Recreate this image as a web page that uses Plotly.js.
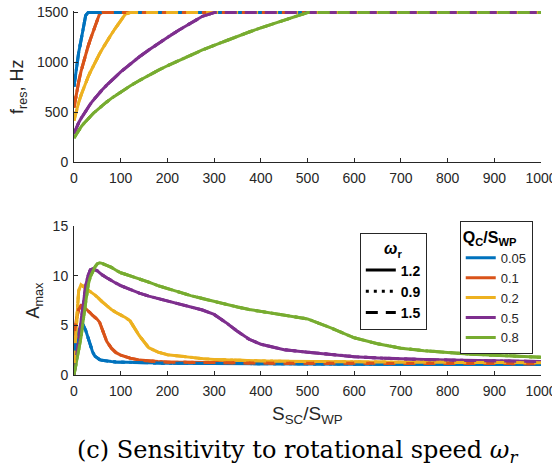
<!DOCTYPE html>
<html>
<head>
<meta charset="utf-8">
<script src="https://cdn.plot.ly/plotly-3.0.1.min.js"></script>
<style>html,body{margin:0;padding:0;background:#fff;}#chart{width:552px;height:469px;}</style>
</head>
<body>
<div id="chart"></div>
<script>
// Shared x values: S_SC/S_WP
const ratio = [0,5,10,15,20,25,30,35,40,45,50,55,60,70,80,90,100,110,120,140,160,180,200,225,250,275,300,325,350,375,400,450,500,550,600,650,700,750,800,850,900,950,1000];

// Q_C/S_WP categories and colours
const qLabels = ['0.05','0.1','0.2','0.5','0.8'];
const qColors = ['#0072BD','#D95319','#EDB120','#7E2F8E','#77AC30'];

// Rotational speed legend
const wLabels = ['1.2','0.9','1.5'];

// f_res, Hz
const fBlue   = [760,946,1100,1220,1340,1470,1500,1500,1500,1500,1500,1500,1500,1500,1500,1500,1500,1500,1500,1500,1500,1500,1500,1500,1500,1500,1500,1500,1500,1500,1500,1500,1500,1500,1500,1500,1500,1500,1500,1500,1500,1500,1500];
const fRed    = [550,690,806,910,1000,1085,1160,1230,1300,1365,1430,1490,1500,1500,1500,1500,1500,1500,1500,1500,1500,1500,1500,1500,1500,1500,1500,1500,1500,1500,1500,1500,1500,1500,1500,1500,1500,1500,1500,1500,1500,1500,1500];
const fYellow = [420,518,600,672,737,797,853,905,954,1001,1040,1089,1130,1209,1282,1352,1420,1484,1500,1500,1500,1500,1500,1500,1500,1500,1500,1500,1500,1500,1500,1500,1500,1500,1500,1500,1500,1500,1500,1500,1500,1500,1500];
const fPurple = [290,347,397,440,479,516,551,584,615,644,672,698,724,773,819,862,905,944,983,1057,1125,1190,1251,1325,1395,1462,1500,1500,1500,1500,1500,1500,1500,1500,1500,1500,1500,1500,1500,1500,1500,1500,1500];
const fGreen  = [245,286,322,355,384,412,437,462,485,507,528,548,568,605,641,674,706,736,765,820,872,921,967,1022,1075,1125,1172,1218,1262,1305,1346,1425,1500,1500,1500,1500,1500,1500,1500,1500,1500,1500,1500];

// A_max
const aBlue   = [2.5,3.6,4.4,4.9,5.0,4.5,3.7,2.9,2.3,1.9,1.7,1.55,1.48,1.4,1.35,1.32,1.3,1.28,1.26,1.24,1.22,1.2,1.19,1.18,1.17,1.16,1.15,1.14,1.13,1.12,1.12,1.11,1.1,1.09,1.08,1.08,1.07,1.07,1.06,1.06,1.05,1.05,1.05];
const aRed    = [4.0,5.6,6.6,7.0,6.9,6.7,6.5,6.25,6.0,5.8,5.6,5.3,4.6,3.4,2.7,2.25,2.0,1.82,1.7,1.5,1.4,1.35,1.3,1.28,1.26,1.24,1.23,1.22,1.21,1.2,1.2,1.19,1.18,1.18,1.17,1.17,1.16,1.16,1.15,1.15,1.15,1.14,1.14];
const aYellow = [1.2,5.5,8.5,9.1,8.9,8.7,8.55,8.4,8.25,8.05,7.85,7.6,7.4,7.0,6.6,6.3,6.05,5.8,5.45,3.95,2.75,2.3,2.05,1.9,1.75,1.65,1.57,1.52,1.48,1.45,1.42,1.38,1.35,1.33,1.31,1.3,1.29,1.28,1.27,1.26,1.25,1.25,1.24];
const aPurple = [0,1.7,3.5,5.3,7.2,9.0,10.0,10.6,10.7,10.6,10.5,10.3,10.1,9.8,9.5,9.25,9.0,8.8,8.6,8.25,7.95,7.7,7.45,7.15,6.85,6.55,6.1,5.3,4.4,3.6,3.1,2.55,2.3,2.05,1.85,1.72,1.6,1.55,1.5,1.46,1.42,1.38,1.35];
const aGreen  = [0,1.2,2.5,3.8,5.6,7.5,9.0,9.9,10.5,10.9,11.2,11.3,11.25,11.05,10.85,10.55,10.3,10.15,10.0,9.7,9.35,9.0,8.7,8.35,8.0,7.7,7.4,7.1,6.85,6.6,6.4,6.05,5.65,4.75,3.75,3.15,2.7,2.45,2.25,2.1,2.0,1.88,1.78];

const fSeries = [fBlue,fRed,fYellow,fPurple,fGreen];
const aSeries = [aBlue,aRed,aYellow,aPurple,aGreen];

const dashes = ['solid','3px,5px','12px,8px'];
const LW = 3;
const traces = [];

dashes.forEach((d, di) => {
  fSeries.forEach((ys, i) => {
    traces.push({x: ratio, y: ys, xaxis:'x', yaxis:'y', mode:'lines', type:'scatter',
      line:{color:qColors[i], width:LW, dash:d}, showlegend:false, hoverinfo:'skip'});
  });
});
dashes.forEach((d, di) => {
  aSeries.forEach((ys, i) => {
    traces.push({x: ratio, y: ys, xaxis:'x2', yaxis:'y2', mode:'lines', type:'scatter',
      line:{color:qColors[i], width:LW, dash:d}, name:qLabels[i],
      showlegend: di === 0, legend:'legend2', hoverinfo:'skip'});
  });
});
// line-style legend entries (style samples only)
wLabels.forEach((lab, k) => {
  traces.push({x:[null], y:[null], xaxis:'x2', yaxis:'y2', mode:'lines', type:'scatter',
    line:{color:'#000', width:LW, dash:dashes[k]}, name:lab, showlegend:true, legend:'legend'});
});

const tickFont = {family:'Liberation Sans, Arial, sans-serif', size:14, color:'#262626'};
const titleFont = {family:'Liberation Sans, Arial, sans-serif', size:18, color:'#262626'};
const axBase = {showline:true, linecolor:'#262626', linewidth:1, ticks:'inside', ticklen:4,
  tickcolor:'#262626', tickfont:tickFont, showgrid:false, zeroline:false, mirror:false, fixedrange:true,
  ticklabeloverflow:'allow'};

const layout = {
  width:552, height:469,
  margin:{l:74, r:11, t:11, b:94},
  paper_bgcolor:'#fff', plot_bgcolor:'#fff',
  font:{family:'Liberation Sans, Arial, sans-serif', color:'#262626'},
  xaxis: Object.assign({}, axBase, {domain:[0,1], anchor:'y', range:[0,1000], tick0:0, dtick:100, ticklabelstandoff:3}),
  yaxis: Object.assign({}, axBase, {domain:[0.584,1], anchor:'x', range:[0,1515], tickvals:[0,500,1000,1500],
    ticklabelstandoff:2, title:{text:'f<sub>res</sub>, Hz', font:titleFont, standoff:8}}),
  xaxis2: Object.assign({}, axBase, {domain:[0,1], anchor:'y2', range:[0,1000], tick0:0, dtick:100, ticklabelstandoff:3}),
  yaxis2: Object.assign({}, axBase, {domain:[0,0.409], anchor:'x2', range:[0,15], tickvals:[0,5,10,15],
    ticklabelstandoff:2, title:{text:'A<sub>max</sub>', font:titleFont, standoff:8}}),
  legend:{x:0.612, y:0.391, xanchor:'left', yanchor:'top', bgcolor:'#fff', bordercolor:'#262626', borderwidth:1,
    font:{family:'Liberation Sans, Arial, sans-serif', size:14, color:'#000', weight:'bold'},
    title:{text:'<i>ω</i><sub>r</sub>', side:'top center', font:{size:16, color:'#000', weight:'bold'}},
    tracegroupgap:0},
  legend2:{x:0.826, y:0.423, xanchor:'left', yanchor:'top', bgcolor:'#fff', bordercolor:'#262626', borderwidth:1,
    font:{family:'Liberation Sans, Arial, sans-serif', size:13, color:'#262626'},
    title:{text:'Q<sub>C</sub>/S<sub>WP</sub>', side:'top', font:{size:16, color:'#000', weight:'bold'}},
    tracegroupgap:0},
  annotations:[
    {text:'S<sub>SC</sub>/S<sub>WP</sub>', xref:'paper', yref:'paper', x:0.5, y:-0.11,
      xanchor:'center', yanchor:'middle', showarrow:false,
      font:{family:'Liberation Sans, Arial, sans-serif', size:19, color:'#262626'}},
    {text:'(c) Sensitivity to rotational speed <i>ω<sub>r</sub></i>', xref:'paper', yref:'paper',
      x:0.478, y:-0.21, xanchor:'center', yanchor:'middle', showarrow:false,
      font:{family:'DejaVu Serif, Liberation Serif, serif', size:24, color:'#000'}}]
};

Plotly.newPlot('chart', traces, layout, {staticPlot:true, displayModeBar:false});
</script>
</body>
</html>
